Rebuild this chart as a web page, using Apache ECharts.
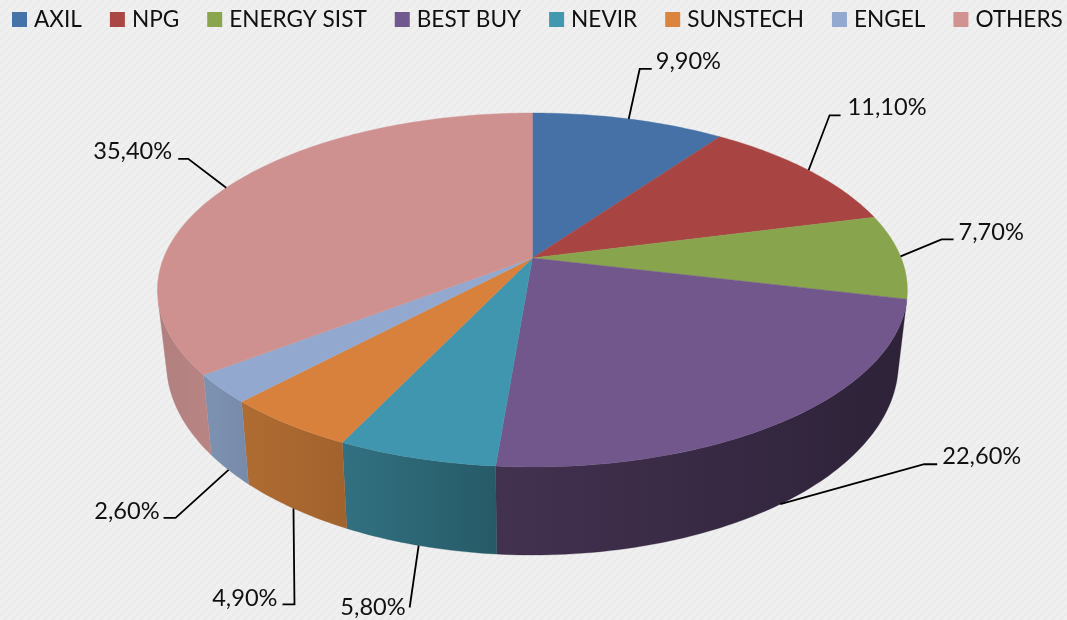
<!DOCTYPE html>
<html>
<head>
<meta charset="utf-8">
<style>html,body{margin:0;padding:0;background:#eee}#c{width:1067px;height:620px}</style>
<script src="https://cdn.jsdelivr.net/npm/echarts@6/dist/echarts.min.js"></script>
</head>
<body>
<div id="c"></div>
<script>
// ---- data ----
const categories = ['AXIL','NPG','ENERGY SIST','BEST BUY','NEVIR','SUNSTECH','ENGEL','OTHERS'];
const shares = [9.9, 11.1, 7.7, 22.6, 5.8, 4.9, 2.6, 35.4];
const shareLabels = ['9,90%','11,10%','7,70%','22,60%','5,80%','4,90%','2,60%','35,40%'];

// ---- styles ----
const topColors = ['#4572A7','#AA4643','#89A54E','#71588F','#4198AF','#DB843D','#93A9CF','#D19392'];
const faceColors = ['#4571A6','#A84543','#88A44D','#71578C','#4096AE','#D8813C','#92A8CE','#CF9190'];
const wallColors = [null,null,null,['#433150','#2D2238'],['#327182','#265A66'],['#AF6C32','#A2622D'],['#7D92B2','#788AAA'],['#B0807E','#B98584']];
const FONT = '23.6px Lato, Carlito, sans-serif';
const legendExtraGap = [0,0,0,0,8,0,0,0];

// ---- view projection of the disc (tilted, with perspective) ----
const view = {cx:532.4, cy:258, A:368.8, B:171.2, p:0.1807, cyLow:328, ALow:360, BLow:186, wallFrom:104, wallTo:256};
function topPt(deg){const r=deg*Math.PI/180,s=Math.sin(r),c=Math.cos(r),w=1+view.p*c;
  return [view.cx+view.A*s/w, view.cy-view.B*c/w];}
function lowPt(deg){const r=deg*Math.PI/180,s=Math.sin(r),c=Math.cos(r),w=1+view.p*c;
  return [view.cx+view.ALow*s/w, view.cyLow-view.BLow*c/w];}
function arc(fn,a,b){const n=Math.max(2,Math.ceil(Math.abs(b-a)));const out=[];
  for(let i=0;i<=n;i++)out.push(fn(a+(b-a)*i/n));return out;}

// leader geometry, relative to the slice's mid-angle edge point: elbow dx, dy, tail dx, text gap, text dy
const leaders = [[11,-50,12,4,-8],[21,-55,11,7,-8],[41,-17,12,5,-7],[144,-40,13,5,-8],
                 [-9,62,0,4,0],[1,96,-12,5,-6],[-53,48,-12,4,-7],[-38,-29,-10,6,-7]];

const total = shares.reduce((a,b)=>a+b,0);
function startDeg(i){let s=0;for(let k=0;k<i;k++)s+=shares[k];return s/total*360;}

function renderSlice(i){
  return function(params,api){
    const v=api.value(0), a=startDeg(i), b=a+v/total*360, mid=(a+b)/2;
    const kids=[];
    // side wall
    const wa=Math.max(a,view.wallFrom), wb=Math.min(b,view.wallTo);
    if(wallColors[i] && wb>wa){
      const pts=arc(topPt,wa,wb).concat(arc(lowPt,wb,wa));
      kids.push({type:'polygon',shape:{points:pts},style:{
        fill:new echarts.graphic.LinearGradient(0,0,1,0,[{offset:0,color:wallColors[i][0]},{offset:1,color:wallColors[i][1]}]),
        stroke:wallColors[i][1],lineWidth:0.3}});
    }
    // top face
    const face=[[view.cx,view.cy]].concat(arc(topPt,a,b));
    kids.push({type:'polygon',shape:{points:face},style:{fill:faceColors[i],stroke:faceColors[i],lineWidth:0.4}});
    // leader + label
    const onWall = mid>view.wallFrom && mid<view.wallTo;
    const p0 = onWall ? lowPt(mid) : topPt(mid);
    const L=leaders[i], e=[p0[0]+L[0],p0[1]+L[1]], t=[e[0]+L[2],e[1]];
    kids.push({type:'polyline',shape:{points:[p0,e,t]},style:{stroke:'#000',lineWidth:1.8,fill:null}});
    const right=L[0]<0||L[2]<0;
    kids.push({type:'text',style:{x:t[0]+(right?-L[3]:L[3]),y:t[1]+L[4],text:shareLabels[i],font:FONT,fill:'#111',
      align:right?'right':'left',verticalAlign:'middle'}});
    return {type:'group',children:kids};
  };
}

// diagonal hatch tile for the backdrop
const tile=document.createElement('canvas');tile.width=8;tile.height=8;
(function(){const g=tile.getContext('2d');g.fillStyle='#f0f0f0';g.fillRect(0,0,8,8);
  g.strokeStyle='#ebebeb';g.lineWidth=2.8;
  for(let k=-8;k<=16;k+=8){g.beginPath();g.moveTo(k,8);g.lineTo(k+8,0);g.stroke();}})();

const chart=echarts.init(document.getElementById('c'),null,{renderer:'canvas'});
chart.setOption({
  animation:false,
  backgroundColor:{image:tile,repeat:'repeat'},
  legend:{left:12,top:8,width:1200,itemWidth:15,itemHeight:15,itemGap:28,padding:0,icon:'rect',
    data:categories.map((name,i)=>({name,textStyle:{padding:[0,legendExtraGap[i],0,2]}})),selectedMode:false,
    textStyle:{fontFamily:'Lato',fontSize:22.6,color:'#111',padding:[0,0,0,2]}},
  series:categories.map((name,i)=>({
    type:'custom',name,coordinateSystem:'none',silent:true,
    itemStyle:{color:topColors[i]},
    data:[[shares[i]]],
    renderItem:renderSlice(i)
  }))
});
</script>
</body>
</html>
